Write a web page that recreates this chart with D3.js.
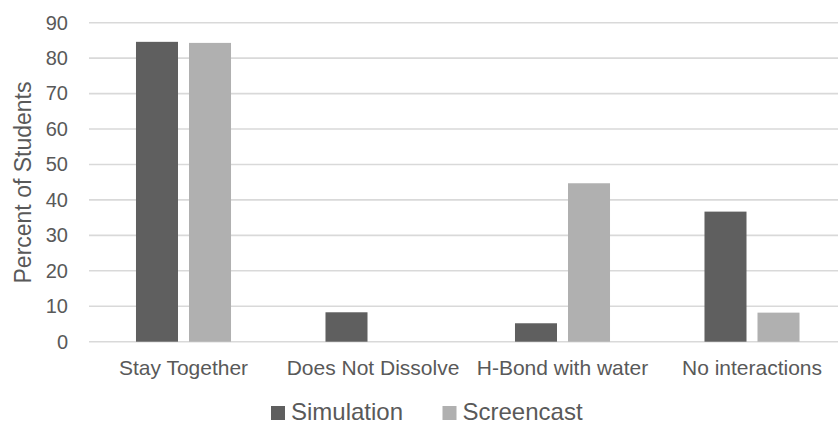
<!DOCTYPE html>
<html>
<head>
<meta charset="utf-8">
<script src="https://cdn.jsdelivr.net/npm/d3@7/dist/d3.min.js"></script>
<style>
  html, body { margin: 0; padding: 0; background: #fff; }
  svg { display: block; }
  text { font-family: Arial, "Liberation Sans", sans-serif; fill: #595959; }
</style>
</head>
<body>
<svg id="chart" width="838" height="427"></svg>
<script>
const categories = ["Stay Together", "Does Not Dissolve", "H-Bond with water", "No interactions"];
const seriesNames = ["Simulation", "Screencast"];
const simulation = [84.6, 8.3, 5.2, 36.7];
const screencast = [84.3, 0, 44.7, 8.2];
const yTicks = [0, 10, 20, 30, 40, 50, 60, 70, 80, 90];
const colors = ["#5f5f5f", "#b0b0b0"];
const yTitle = "Percent of Students";

const values = [simulation, screencast];
const rows = categories.map((c, i) => ({
  cat: c,
  vals: seriesNames.map((s, j) => ({ series: s, value: values[j][i] }))
}));

const svg = d3.select("#chart");
const left = 88.75, band = 189.5;
const x0 = d3.scaleBand().domain(categories).range([left, left + band * categories.length]).padding(0);
const x1 = d3.scaleBand().domain(seriesNames).range([0, x0.bandwidth()]).paddingInner(0.2075).paddingOuter(0.891);
const y = d3.scaleLinear().domain([0, 90]).range([341.7, 22.7]);
const color = d3.scaleOrdinal().domain(seriesNames).range(colors);

// gridlines
svg.append("g").selectAll("line").data(yTicks).join("line")
  .attr("x1", 89).attr("x2", 838)
  .attr("y1", d => y(d)).attr("y2", d => y(d))
  .attr("stroke", "#d9d9d9").attr("stroke-width", 1.6);

// y axis labels
const yAxis = d3.axisLeft(y).tickValues(yTicks).tickSize(0).tickPadding(0);
const yg = svg.append("g").attr("transform", "translate(68,0)").call(yAxis);
yg.select(".domain").remove();
yg.selectAll("text").attr("font-size", 20).style("font-family", "Arial, 'Liberation Sans', sans-serif").attr("fill", "#595959");

// bars
svg.append("g").selectAll("g").data(rows).join("g")
  .attr("transform", d => `translate(${x0(d.cat)},0)`)
  .selectAll("rect").data(d => d.vals).join("rect")
  .attr("x", d => x1(d.series))
  .attr("width", x1.bandwidth())
  .attr("y", d => y(d.value))
  .attr("height", d => y(0) - y(d.value))
  .attr("fill", d => color(d.series));

// x axis labels
const xAxis = d3.axisBottom(x0).tickSize(0).tickPadding(0);
const xg = svg.append("g").attr("transform", "translate(0,355)").call(xAxis);
xg.select(".domain").remove();
xg.selectAll("text").attr("font-size", 21).attr("dy", "0.95em")
  .style("font-family", "Arial, 'Liberation Sans', sans-serif").attr("fill", "#595959");

// y title
svg.append("text")
  .attr("transform", "translate(23,182.5) rotate(-90)")
  .attr("text-anchor", "middle").attr("dy", "0.35em")
  .attr("font-size", 23)
  .text(yTitle);

// legend
const legendPos = [271, 442.5];
const lg = svg.append("g").selectAll("g").data(seriesNames).join("g")
  .attr("transform", (d, i) => `translate(${legendPos[i]},0)`);
lg.append("rect").attr("x", 0).attr("y", 406).attr("width", 14).attr("height", 14)
  .attr("fill", d => color(d));
lg.append("text").attr("x", 20).attr("y", 420).attr("font-size", 24).text(d => d);
</script>
</body>
</html>
